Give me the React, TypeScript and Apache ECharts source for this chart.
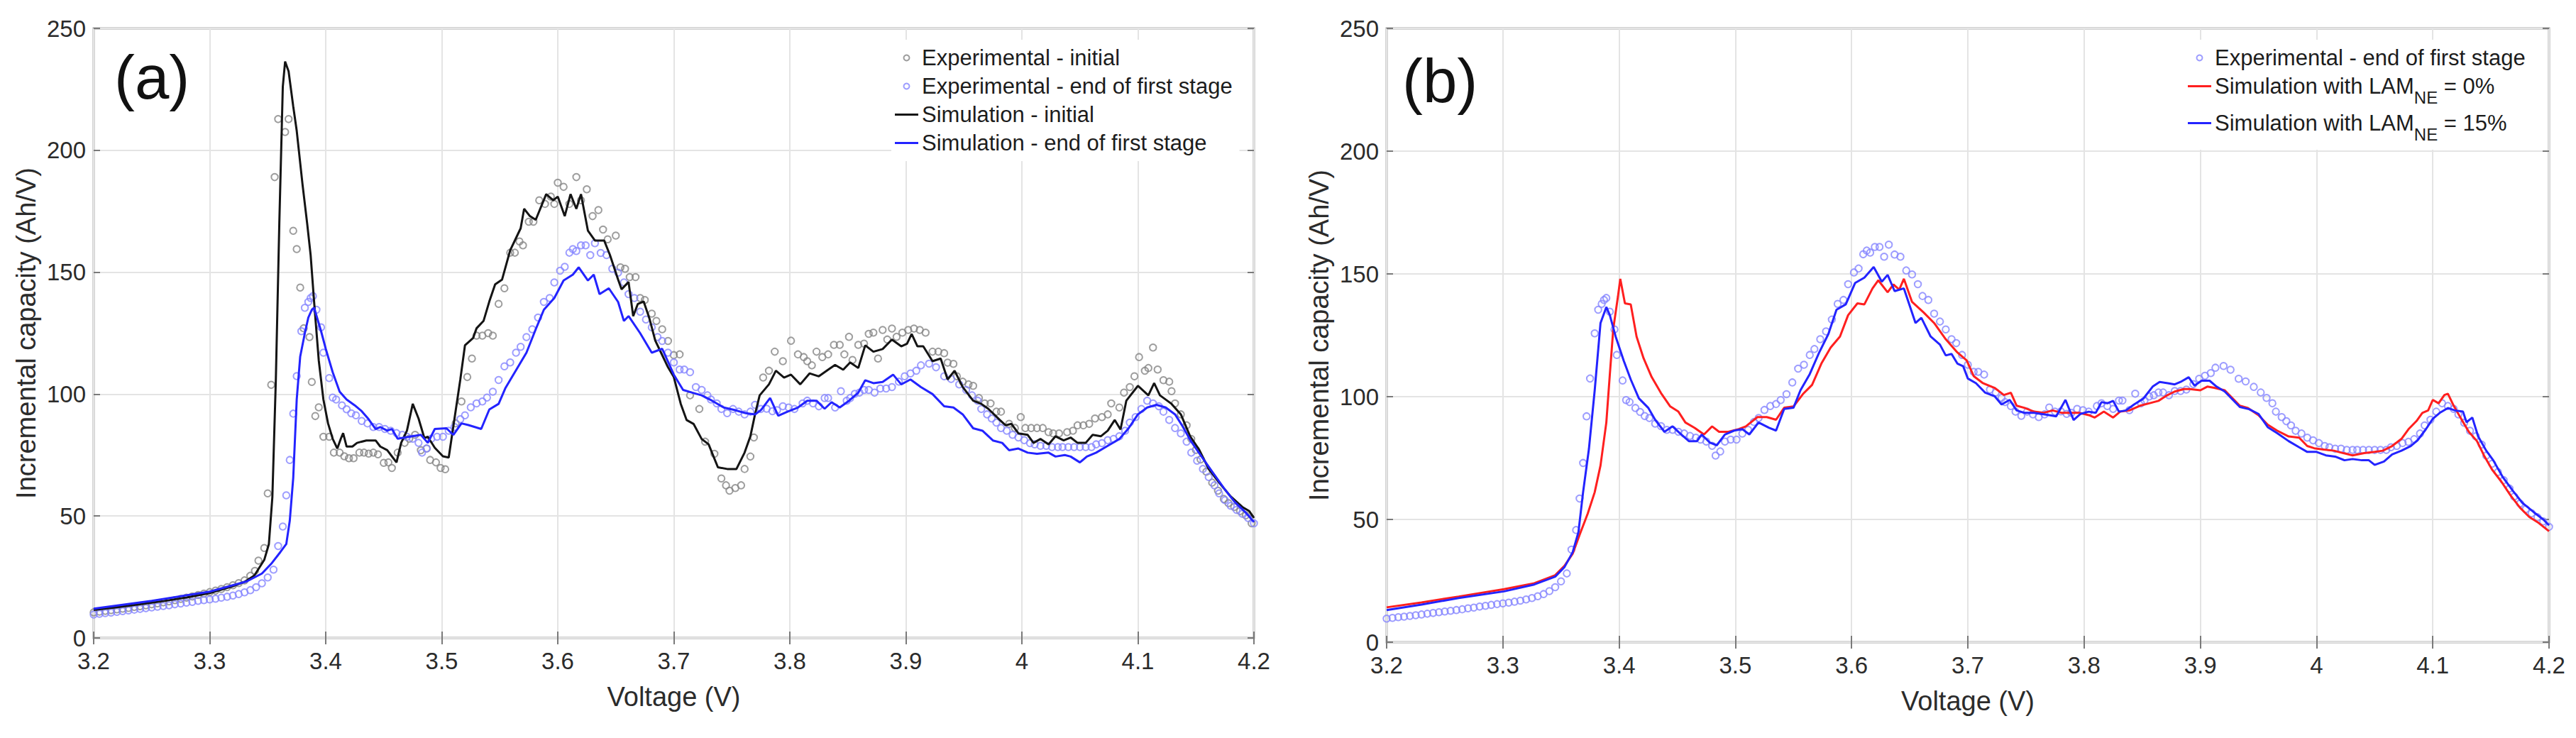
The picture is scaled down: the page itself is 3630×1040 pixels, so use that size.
import React, { useEffect, useRef } from "react";
import * as echarts from "echarts";

// ---------- data (Voltage V, incremental capacity Ah/V) ----------
const xTicks = { min: 3.2, max: 4.2, step: 0.1 };
const yTicks = { min: 0, max: 250, step: 50 };

const expInitial: number[][] = [
  [3.200, 10.5], [3.205, 10.8], [3.210, 11.1], [3.215, 11.4], [3.220, 11.7], [3.225, 12.0], [3.230, 12.3],
  [3.235, 12.7], [3.240, 13.0], [3.245, 13.4], [3.250, 13.8], [3.255, 14.2], [3.260, 14.6], [3.265, 15.0],
  [3.270, 15.5], [3.275, 16.0], [3.280, 16.5], [3.285, 17.0], [3.290, 17.6], [3.295, 18.2], [3.300, 18.8],
  [3.305, 19.4], [3.310, 20.1], [3.315, 20.8], [3.320, 21.6], [3.325, 22.5], [3.330, 23.6], [3.335, 25.5],
  [3.339, 27.5], [3.342, 31.7], [3.347, 36.9], [3.350, 59.3], [3.353, 103.8], [3.356, 189], [3.359, 212.8],
  [3.365, 207.5], [3.368, 212.8], [3.372, 167], [3.375, 159.5], [3.378, 143.7], [3.381, 127], [3.386, 123.4],
  [3.388, 105], [3.391, 91], [3.394, 94.6], [3.398, 82.5], [3.403, 82.5], [3.407, 76], [3.412, 76],
  [3.416, 74.5], [3.420, 73.7], [3.424, 73.7], [3.429, 76], [3.433, 76], [3.437, 75.6], [3.441, 76],
  [3.445, 75.3], [3.450, 71.8], [3.454, 72], [3.457, 69.7], [3.462, 76], [3.468, 80], [3.472, 81.7],
  [3.477, 83.3], [3.482, 77], [3.487, 77.7], [3.490, 73], [3.495, 72], [3.499, 69.7], [3.503, 69.2],
  [3.512, 88], [3.517, 97], [3.522, 107], [3.526, 114.6], [3.530, 124], [3.535, 124], [3.540, 125],
  [3.544, 124], [3.549, 137], [3.554, 143.4], [3.559, 158], [3.563, 158], [3.567, 162.6], [3.570, 161],
  [3.575, 170.7], [3.579, 170.7], [3.584, 179.5], [3.589, 178], [3.594, 181], [3.597, 178], [3.600, 186.7],
  [3.605, 185], [3.610, 178], [3.616, 189], [3.620, 179.5], [3.625, 184], [3.630, 173], [3.635, 175.5],
  [3.639, 167.5], [3.643, 163.5], [3.650, 165], [3.654, 152], [3.658, 151.4], [3.662, 148], [3.667, 148],
  [3.671, 139.4], [3.675, 138.6], [3.681, 133], [3.685, 130], [3.690, 126.6], [3.695, 121.8], [3.700, 116],
  [3.705, 116.3], [3.714, 99.5], [3.722, 93.9], [3.727, 80.5], [3.735, 75.5], [3.741, 65.4], [3.745, 62.6],
  [3.748, 60.4], [3.753, 61.5], [3.758, 62.6], [3.761, 69.3], [3.766, 74.4], [3.769, 82.2], [3.777, 106.8],
  [3.782, 109.6], [3.787, 117.4], [3.794, 113.5], [3.801, 121.9], [3.807, 116.3], [3.812, 115.2], [3.815, 113.5],
  [3.819, 111.8], [3.823, 117.4], [3.828, 115.2], [3.833, 116.3], [3.838, 120.2], [3.843, 120.2], [3.847, 116.3],
  [3.851, 123.5], [3.854, 114], [3.859, 120.2], [3.864, 120.7], [3.868, 124.7], [3.872, 125.2], [3.876, 114.6],
  [3.880, 126.3], [3.884, 122.4], [3.888, 126.9], [3.892, 123.5], [3.897, 125.2], [3.902, 126.3], [3.907, 126.9],
  [3.912, 126.3], [3.917, 125.2], [3.923, 117.4], [3.928, 117.4], [3.933, 116.8], [3.936, 112.9], [3.941, 112.4],
  [3.944, 107.3], [3.949, 105.1], [3.954, 104], [3.958, 103.4], [3.963, 98.4], [3.968, 96.2], [3.973, 96.2],
  [3.978, 92.8], [3.982, 92.8], [3.989, 87.8], [3.994, 86.1], [3.999, 90.6], [4.003, 86.1], [4.008, 86.1],
  [4.013, 86.1], [4.018, 86.1], [4.023, 84.4], [4.027, 83.9], [4.032, 83.9], [4.039, 84.4], [4.044, 85],
  [4.048, 87.2], [4.053, 87.2], [4.058, 87.8], [4.063, 90], [4.069, 90.6], [4.074, 91.7], [4.077, 96.2],
  [4.084, 94.5], [4.088, 100.6], [4.093, 102.9], [4.097, 107.3], [4.101, 115.2], [4.106, 109.6], [4.109, 110.7],
  [4.113, 119.1], [4.117, 110.1], [4.122, 105.7], [4.127, 105.1], [4.129, 101.2], [4.132, 96.2], [4.137, 91.7],
  [4.142, 87.2], [4.146, 81.6], [4.150, 77.1], [4.154, 73.2], [4.159, 68.2], [4.164, 63.7], [4.169, 60.4],
  [4.174, 57], [4.178, 55.3], [4.183, 53.7], [4.188, 52], [4.193, 50.3], [4.198, 47],
];

const expEndFirstStage: number[][] = [
  [3.200, 9.6], [3.205, 9.9], [3.210, 10.2], [3.215, 10.4], [3.220, 10.7], [3.225, 11.0], [3.230, 11.3],
  [3.235, 11.6], [3.240, 11.9], [3.245, 12.2], [3.250, 12.5], [3.255, 12.8], [3.260, 13.1], [3.265, 13.4],
  [3.270, 13.8], [3.275, 14.1], [3.280, 14.5], [3.285, 14.8], [3.290, 15.2], [3.295, 15.5], [3.300, 15.8],
  [3.305, 16.1], [3.310, 16.5], [3.315, 16.9], [3.320, 17.4], [3.325, 18.0], [3.330, 18.7], [3.335, 19.6],
  [3.340, 20.8], [3.345, 22.4], [3.350, 24.8], [3.355, 28], [3.359, 37.7], [3.363, 45.7], [3.366, 58.5],
  [3.369, 73], [3.372, 92], [3.375, 107.4], [3.379, 125.8], [3.382, 135.4], [3.385, 137.8], [3.387, 139.4],
  [3.389, 140.2], [3.392, 134.6], [3.396, 127.4], [3.398, 117], [3.403, 106.6], [3.406, 98.6], [3.409, 97.8],
  [3.414, 95.4], [3.418, 93.8], [3.422, 92.1], [3.426, 91.3], [3.431, 89], [3.436, 88], [3.441, 86.5],
  [3.446, 86.5], [3.451, 85.7], [3.456, 85], [3.461, 84], [3.466, 83.3], [3.470, 82.5], [3.475, 81.7],
  [3.480, 80], [3.483, 76], [3.487, 77.7], [3.491, 81.7], [3.496, 82.5], [3.501, 82.5], [3.506, 85],
  [3.511, 86.5], [3.516, 89.7], [3.520, 91.3], [3.525, 94.6], [3.530, 96.2], [3.535, 97], [3.539, 98.6],
  [3.544, 101], [3.549, 105.8], [3.554, 111.4], [3.559, 113], [3.564, 117], [3.568, 119.4], [3.573, 123.4],
  [3.578, 126.6], [3.583, 131.4], [3.588, 137.8], [3.593, 139.4], [3.597, 145.8], [3.602, 150.6], [3.606, 152.2],
  [3.610, 158], [3.613, 159.5], [3.616, 158.7], [3.620, 161], [3.624, 161], [3.628, 157], [3.632, 161.9],
  [3.637, 157.9], [3.642, 157], [3.647, 151.4], [3.652, 149.8], [3.657, 145.8], [3.661, 141], [3.666, 139.4],
  [3.671, 133.8], [3.676, 130.6], [3.681, 127.4], [3.686, 123.4], [3.690, 121.8], [3.695, 117], [3.700, 113],
  [3.705, 110.1], [3.709, 110.1], [3.714, 109], [3.719, 102.9], [3.724, 101.7], [3.729, 99.5], [3.732, 97.8],
  [3.737, 96.2], [3.741, 93.9], [3.746, 92.2], [3.751, 93.9], [3.756, 92.8], [3.761, 91.7], [3.766, 92.8],
  [3.770, 95.6], [3.775, 93.9], [3.780, 94], [3.785, 93], [3.789, 93.4], [3.794, 95], [3.799, 94.5],
  [3.804, 93.9], [3.811, 96.2], [3.815, 97.3], [3.820, 96.2], [3.825, 95], [3.830, 98.4], [3.833, 98.4],
  [3.839, 94.5], [3.844, 101.2], [3.849, 97.3], [3.852, 98.4], [3.856, 100.1], [3.860, 100.6], [3.864, 101.7],
  [3.868, 101.7], [3.873, 100.6], [3.878, 102.3], [3.883, 102.3], [3.888, 102.9], [3.894, 105.1], [3.899, 107.3],
  [3.904, 108.5], [3.909, 109.6], [3.913, 111.8], [3.920, 112.5], [3.926, 111], [3.933, 107.3], [3.939, 106.2],
  [3.946, 104], [3.952, 101.7], [3.957, 99.5], [3.962, 97.3], [3.965, 93.9], [3.970, 91.7], [3.974, 90],
  [3.978, 88.3], [3.982, 86.1], [3.987, 85], [3.992, 83.3], [3.997, 82.2], [4.002, 81.1], [4.007, 79.9],
  [4.011, 79.4], [4.016, 78.8], [4.021, 78.8], [4.026, 78.3], [4.031, 78.3], [4.035, 78.3], [4.040, 78.3],
  [4.045, 78.3], [4.050, 78.3], [4.055, 78.3], [4.060, 78.3], [4.064, 79.4], [4.069, 79.9], [4.074, 81.1],
  [4.079, 81.6], [4.084, 82.7], [4.089, 85], [4.093, 88.3], [4.098, 90.6], [4.103, 93.9], [4.108, 97.3],
  [4.113, 96.2], [4.118, 95], [4.122, 92.8], [4.127, 89.4], [4.132, 86.1], [4.137, 83.9], [4.142, 80.5],
  [4.146, 76], [4.151, 72.7], [4.156, 69.3], [4.161, 66], [4.166, 62.6], [4.170, 59.3], [4.175, 56.5],
  [4.180, 54.2], [4.185, 52.5], [4.190, 50.9], [4.195, 49.2], [4.200, 47],
];

const simInitial: number[][] = [
  [3.200, 11.5], [3.220, 12.6], [3.240, 13.8], [3.260, 15.1], [3.280, 16.6], [3.300, 18.4], [3.320, 21.2],
  [3.330, 23], [3.3385, 25.6], [3.347, 32], [3.351, 38.5], [3.354, 57.7], [3.357, 105.8], [3.360, 170],
  [3.363, 226], [3.365, 236.4], [3.368, 232.4], [3.372, 218], [3.375, 208], [3.380, 186], [3.384, 170],
  [3.387, 157], [3.390, 137.8], [3.394, 113.8], [3.398, 97.8], [3.402, 88], [3.406, 81.7], [3.410, 77.7],
  [3.413, 81.7], [3.415, 84], [3.418, 78.5], [3.423, 78.5], [3.427, 80], [3.435, 81], [3.443, 81],
  [3.447, 78.5], [3.453, 77], [3.457, 74.5], [3.461, 72], [3.465, 80], [3.470, 85], [3.475, 96],
  [3.480, 90], [3.485, 82], [3.488, 82.5], [3.494, 78], [3.501, 74.5], [3.506, 74], [3.511, 90],
  [3.516, 106], [3.520, 120], [3.527, 123], [3.530, 127], [3.536, 130], [3.541, 138], [3.546, 145],
  [3.552, 147], [3.559, 159], [3.564, 164], [3.568, 168], [3.571, 176], [3.576, 173], [3.581, 171.5],
  [3.584, 175], [3.590, 182], [3.596, 179.5], [3.600, 181], [3.606, 173], [3.611, 182], [3.616, 176],
  [3.620, 182], [3.626, 167], [3.632, 163], [3.640, 163], [3.645, 157], [3.652, 147], [3.655, 143],
  [3.661, 146], [3.665, 132], [3.669, 137], [3.674, 138], [3.679, 131], [3.684, 122], [3.689, 117],
  [3.695, 111], [3.700, 107], [3.706, 96], [3.711, 89.4], [3.717, 87.8], [3.724, 81.6], [3.730, 79.4],
  [3.738, 70], [3.746, 69.3], [3.754, 69.3], [3.761, 76], [3.766, 82.7], [3.770, 91.7], [3.774, 99.5],
  [3.782, 104], [3.788, 109.6], [3.795, 106.8], [3.801, 108], [3.809, 104], [3.817, 108.5], [3.825, 107.3],
  [3.833, 110], [3.839, 112], [3.846, 110], [3.852, 113], [3.859, 110.7], [3.865, 120], [3.872, 117.4],
  [3.880, 118.5], [3.888, 122.4], [3.896, 119.6], [3.901, 120.7], [3.905, 124.7], [3.910, 119.6], [3.915, 119.6],
  [3.923, 113.5], [3.930, 114.6], [3.936, 106], [3.942, 109.6], [3.949, 102.9], [3.958, 97.3], [3.965, 96],
  [3.971, 94], [3.981, 89.4], [3.986, 87.2], [3.991, 87.8], [3.997, 83.9], [4.005, 83.3], [4.010, 80],
  [4.016, 81.6], [4.023, 79.4], [4.029, 82.7], [4.036, 81], [4.042, 82.2], [4.048, 80], [4.055, 80],
  [4.061, 83.3], [4.068, 82.7], [4.074, 85], [4.080, 89.4], [4.085, 85.5], [4.090, 97.3], [4.100, 103.4],
  [4.109, 99.5], [4.114, 104.5], [4.119, 99.5], [4.129, 96], [4.137, 91.7], [4.145, 82.7], [4.153, 77],
  [4.161, 69.3], [4.170, 63.7], [4.180, 58], [4.190, 53.7], [4.196, 52], [4.200, 49.2],
];

const simEndFirstStage: number[][] = [
  [3.200, 12], [3.250, 15.2], [3.300, 19], [3.332, 23.2], [3.345, 26.4], [3.353, 30.4], [3.361, 35.3],
  [3.366, 38.5], [3.369, 48], [3.372, 65.7], [3.375, 97.8], [3.378, 115.4], [3.382, 125], [3.385, 131.4],
  [3.388, 134.6], [3.390, 135.4], [3.393, 130.6], [3.396, 125.8], [3.400, 118.6], [3.406, 109], [3.412, 101],
  [3.418, 97.8], [3.425, 95.4], [3.431, 93], [3.437, 89.7], [3.443, 85.7], [3.447, 86.5], [3.453, 85],
  [3.457, 85.7], [3.462, 81.7], [3.472, 82.5], [3.482, 83.3], [3.488, 80], [3.494, 85.7], [3.504, 86],
  [3.510, 83.3], [3.517, 88], [3.523, 87.3], [3.534, 85.7], [3.541, 93.7], [3.549, 96], [3.555, 102.6],
  [3.565, 110.6], [3.573, 117], [3.581, 126.6], [3.588, 134.6], [3.597, 139.4], [3.605, 146.6], [3.613, 149],
  [3.618, 152], [3.626, 146.6], [3.631, 149], [3.636, 141], [3.644, 143.4], [3.652, 137.8], [3.657, 130],
  [3.661, 132], [3.671, 125], [3.681, 117], [3.690, 118.6], [3.700, 108], [3.708, 101.7], [3.716, 100.6],
  [3.724, 99.5], [3.733, 97.3], [3.743, 94.5], [3.753, 93.4], [3.762, 92.2], [3.770, 91.7], [3.775, 93.4],
  [3.783, 98.4], [3.790, 91.1], [3.798, 92.8], [3.807, 94.5], [3.815, 97.3], [3.823, 97.3], [3.830, 94],
  [3.836, 96.7], [3.843, 94.5], [3.851, 97.3], [3.859, 100.6], [3.865, 105.7], [3.872, 104.5], [3.880, 105],
  [3.889, 108], [3.896, 104], [3.904, 106], [3.913, 102.9], [3.923, 100], [3.933, 95], [3.941, 94.5],
  [3.949, 91.7], [3.958, 86], [3.966, 85], [3.975, 81], [3.983, 80], [3.989, 77], [3.997, 77.7],
  [4.005, 76], [4.013, 75.5], [4.023, 76], [4.029, 74.4], [4.037, 75], [4.042, 74.4], [4.050, 72],
  [4.056, 74.4], [4.064, 76], [4.074, 78.8], [4.084, 81.6], [4.092, 86], [4.100, 91.7], [4.108, 94.5],
  [4.116, 95.6], [4.124, 94.5], [4.132, 91.7], [4.138, 87.2], [4.146, 80.5], [4.154, 75], [4.164, 68.2],
  [4.174, 61.5], [4.183, 56], [4.193, 51.4], [4.200, 47.5],
];

const simLam0: number[][] = [
  [3.200, 14.2], [3.230, 16.2], [3.262, 18.6], [3.301, 21.6], [3.327, 24], [3.345, 27.3], [3.353, 31.1],
  [3.360, 36], [3.366, 43.7], [3.373, 52.4], [3.379, 61.1], [3.384, 72], [3.389, 89.5], [3.392, 109],
  [3.395, 127.7], [3.399, 140.8], [3.401, 148], [3.405, 138], [3.410, 137.6], [3.415, 124.5], [3.421, 115.7],
  [3.428, 108], [3.436, 101.5], [3.444, 96], [3.451, 93.9], [3.457, 89.5], [3.465, 87.3], [3.473, 84.6],
  [3.480, 87.9], [3.486, 85.7], [3.494, 85.7], [3.503, 86.8], [3.509, 87.9], [3.519, 91.7], [3.527, 91.7],
  [3.535, 90.6], [3.542, 95.5], [3.550, 96], [3.558, 101], [3.566, 104.8], [3.574, 113.5], [3.582, 120],
  [3.590, 124.5], [3.597, 133.2], [3.605, 138], [3.611, 137.6], [3.618, 144.1], [3.623, 147.4], [3.631, 142.5],
  [3.636, 145.7], [3.641, 143.6], [3.645, 148], [3.652, 138.6], [3.662, 134.3], [3.671, 130], [3.681, 123.4],
  [3.691, 118], [3.699, 114.8], [3.705, 108.4], [3.713, 105.5], [3.723, 103.6], [3.731, 100.7], [3.737, 101.6],
  [3.742, 96.3], [3.749, 95.4], [3.757, 93.9], [3.765, 93.4], [3.773, 94.4], [3.781, 93.4], [3.788, 93.4],
  [3.796, 93.4], [3.804, 92.5], [3.809, 91.5], [3.817, 93.9], [3.825, 91.5], [3.831, 93.9], [3.839, 94.4],
  [3.848, 96.3], [3.856, 97.3], [3.864, 98.3], [3.872, 100.7], [3.878, 102.1], [3.886, 103.1], [3.891, 103.1],
  [3.900, 102.6], [3.906, 104.1], [3.912, 103.6], [3.921, 102.6], [3.927, 99.7], [3.934, 96.3], [3.941, 95.4],
  [3.950, 92.5], [3.958, 88.6], [3.966, 86.2], [3.976, 83.8], [3.985, 83.3], [3.992, 79.9], [3.998, 79],
  [4.006, 78.5], [4.015, 78], [4.023, 77], [4.031, 76.1], [4.041, 77], [4.050, 77.5], [4.057, 78],
  [4.065, 79.9], [4.073, 82.8], [4.079, 86.7], [4.086, 90.1], [4.091, 93.4], [4.096, 94.4], [4.100, 98.7],
  [4.105, 97.3], [4.110, 100.7], [4.113, 101.2], [4.118, 96.3], [4.125, 90.5], [4.131, 85.7], [4.138, 81.9],
  [4.144, 76.1], [4.151, 70.3], [4.159, 65.4], [4.167, 59.7], [4.175, 54.8], [4.183, 51], [4.191, 48.6],
  [4.200, 45.2],
];

const simLam15: number[][] = [
  [3.200, 13.1], [3.230, 15.3], [3.262, 18], [3.301, 20.7], [3.327, 23.5], [3.345, 26.7], [3.353, 30.6],
  [3.360, 36.6], [3.365, 44.8], [3.369, 61.1], [3.374, 78.6], [3.379, 102.6], [3.384, 130], [3.389, 136.5],
  [3.392, 133.2], [3.397, 124.5], [3.404, 114.6], [3.410, 107], [3.417, 99.3], [3.425, 95.5], [3.431, 90.6],
  [3.439, 85.7], [3.446, 87.9], [3.452, 85.2], [3.460, 81.9], [3.467, 81.9], [3.471, 84.6], [3.478, 81.3],
  [3.484, 80.2], [3.491, 84.6], [3.499, 86.2], [3.506, 86.8], [3.512, 84.6], [3.520, 89.5], [3.529, 87.3],
  [3.535, 86.2], [3.542, 95], [3.550, 95.5], [3.556, 102.6], [3.564, 109.2], [3.572, 117.9], [3.580, 125.5],
  [3.587, 135.4], [3.595, 137.6], [3.603, 146.3], [3.611, 148.5], [3.619, 152.8], [3.626, 146.8], [3.631, 149.6],
  [3.637, 143], [3.645, 144.1], [3.655, 130], [3.660, 132.1], [3.668, 124.5], [3.676, 121.2], [3.681, 116.8],
  [3.686, 117.4], [3.691, 113.5], [3.696, 112.4], [3.700, 107.4], [3.707, 105.5], [3.715, 101.6], [3.723, 100.2],
  [3.729, 96.8], [3.736, 98.7], [3.742, 94.4], [3.749, 93.4], [3.757, 93.4], [3.763, 93], [3.770, 92.5],
  [3.776, 92], [3.784, 98.7], [3.791, 90.5], [3.797, 93], [3.804, 93.9], [3.810, 93.4], [3.815, 97.8],
  [3.820, 97.3], [3.825, 98.3], [3.830, 93.9], [3.836, 94.4], [3.843, 96.8], [3.851, 99.2], [3.859, 104.1],
  [3.865, 106], [3.872, 105.5], [3.878, 105], [3.883, 106], [3.890, 107.9], [3.895, 104.5], [3.901, 106.5],
  [3.908, 106.5], [3.914, 104.1], [3.921, 102.1], [3.927, 99.2], [3.934, 95.8], [3.942, 94.9], [3.950, 93],
  [3.958, 87.6], [3.966, 85.2], [3.976, 81.9], [3.985, 79.4], [3.992, 77.5], [4.000, 77.5], [4.008, 76.1],
  [4.016, 75.6], [4.024, 74.1], [4.031, 74.6], [4.039, 74.1], [4.045, 74.1], [4.050, 72.2], [4.058, 73.6],
  [4.065, 76.5], [4.073, 78], [4.081, 79.9], [4.087, 82.3], [4.094, 86.7], [4.100, 91], [4.106, 93.4],
  [4.113, 95.4], [4.119, 94.4], [4.126, 93.9], [4.129, 89.6], [4.134, 91.5], [4.139, 83.8], [4.146, 78],
  [4.152, 74.1], [4.160, 67.4], [4.169, 61.6], [4.177, 56.8], [4.187, 52.9], [4.195, 50], [4.200, 47.6],
];

const namesA = [
  "Experimental - initial",
  "Experimental - end of first stage",
  "Simulation - initial",
  "Simulation - end of first stage",
];
const namesB = [
  "Experimental - end of first stage",
  "Simulation with LAM_NE = 0%",
  "Simulation with LAM_NE = 15%",
];
const panelLabels = ["(a)", "(b)"];
const axisTitles = { x: "Voltage (V)", y: "Incremental capacity (Ah/V)" };

// ---------- styling ----------
const FONT = "'Liberation Sans', Arial, Helvetica, sans-serif";
const TXT = "#2b2b2b";
const AXIS = "#a8a8a8";
const GRIDC = "#e4e4e4";
const GREY_MK = "#848484";
const BLUE_MK = "#8484ff";
const BLACK = "#141414";
const BLUE = "#2323ff";
const RED = "#ff1f1f";
const LINE_ICON = "path://M0 0H33V0.02H0Z M0 2.5H33V5.5H0Z M0 7.98H33V8H0Z";

const grids = [
  { left: 132, top: 40, width: 1635, height: 859 },
  { left: 1954, top: 40, width: 1638, height: 865 },
];

function fmtX(v: number) {
  return String(Math.round(v * 10) / 10);
}

function xAxes(gridIndex: number) {
  const common = {
    type: "value",
    gridIndex,
    min: xTicks.min,
    max: xTicks.max,
    interval: xTicks.step,
    axisLine: { show: false },
    axisTick: { show: true, inside: true, length: 9, lineStyle: { color: "#7a7a7a", width: 2 } },
  };
  return [
    {
      ...common,
      position: "bottom",
      axisLabel: { fontSize: 33, color: TXT, fontFamily: FONT, margin: 16, formatter: fmtX },
      splitLine: { show: true, lineStyle: { color: GRIDC, width: 2 } },
      name: axisTitles.x,
      nameLocation: "middle",
      nameGap: 64,
      nameTextStyle: { fontSize: 38, color: TXT, fontFamily: FONT },
    },
    { ...common, position: "top", axisLabel: { show: false }, splitLine: { show: false } },
  ];
}

function yAxes(gridIndex: number) {
  const common = {
    type: "value",
    gridIndex,
    min: yTicks.min,
    max: yTicks.max,
    interval: yTicks.step,
    axisLine: { show: false },
    axisTick: { show: true, inside: true, length: 9, lineStyle: { color: "#7a7a7a", width: 2 } },
  };
  return [
    {
      ...common,
      position: "left",
      axisLabel: { fontSize: 33, color: TXT, fontFamily: FONT, margin: 11 },
      splitLine: { show: true, lineStyle: { color: GRIDC, width: 2 } },
      name: axisTitles.y,
      nameLocation: "middle",
      nameGap: 76,
      nameTextStyle: { fontSize: 38, color: TXT, fontFamily: FONT },
    },
    { ...common, position: "right", axisLabel: { show: false }, splitLine: { show: false } },
  ];
}

function scatter(name: string, data: number[][], color: string, axis: number) {
  return {
    type: "scatter",
    name,
    data,
    xAxisIndex: axis,
    yAxisIndex: axis,
    symbol: "circle",
    symbolSize: 9.5,
    itemStyle: { color: "rgba(0,0,0,0)", borderColor: color, borderWidth: 2 },
    z: 2,
  };
}

function line(name: string, data: number[][], color: string, axis: number, z: number) {
  return {
    type: "line",
    name,
    data,
    xAxisIndex: axis,
    yAxisIndex: axis,
    symbol: "none",
    showSymbol: false,
    lineStyle: { color, width: 3 },
    itemStyle: { color },
    z,
  };
}

function legendItems(names: string[], scatterCount: number[]) {
  return names.map((n, i) => ({ name: n, icon: scatterCount.includes(i) ? "circle" : LINE_ICON }));
}

const legendText = { fontSize: 31, color: "#1c1c1c", fontFamily: FONT };

export default function App() {
  const ref = useRef<HTMLDivElement>(null);
  useEffect(() => {
    if (!ref.current) return;
    const chart = echarts.init(ref.current, undefined, { renderer: "svg" });
    const option = {
      animation: false,
      backgroundColor: "#ffffff",
      grid: grids.map((g) => ({
        ...g,
        show: true,
        borderColor: AXIS,
        borderWidth: 3,
        backgroundColor: "transparent",
        containLabel: false,
      })),
      xAxis: [...xAxes(0), ...xAxes(1)],
      yAxis: [...yAxes(0), ...yAxes(1)],
      legend: [
        {
          orient: "vertical",
          left: 1256,
          top: 56,
          itemWidth: 33,
          itemHeight: 8,
          itemGap: 9,
          symbolKeepAspect: true,
          padding: [10, 10, 10, 5],
          backgroundColor: "#ffffff",
          selectedMode: false,
          textStyle: legendText,
          data: legendItems(namesA, [0, 1]),
        },
        {
          orient: "vertical",
          left: 3078,
          top: 56,
          itemWidth: 33,
          itemHeight: 8,
          itemGap: 9,
          symbolKeepAspect: true,
          padding: [10, 10, 10, 5],
          backgroundColor: "#ffffff",
          selectedMode: false,
          textStyle: {
            ...legendText,
            rich: {
              n: { fontSize: 31, lineHeight: 31, verticalAlign: "top", color: "#1c1c1c", fontFamily: FONT },
              sub: {
                fontSize: 24,
                lineHeight: 24,
                verticalAlign: "top",
                padding: [19, 0, 0, 0],
                color: "#1c1c1c",
                fontFamily: FONT,
              },
            },
          },
          formatter: (name: string) => {
            const i = name.indexOf("LAM_NE");
            if (i < 0) return "{n|" + name + "}";
            return "{n|" + name.slice(0, i) + "LAM}{sub|NE}{n|" + name.slice(i + 6) + "}";
          },
          data: legendItems(namesB, [0]),
        },
      ],
      graphic: [
        {
          type: "text",
          left: 161,
          top: 65,
          style: { text: panelLabels[0], fontSize: 87, fill: "#111111", fontFamily: FONT },
          z: 10,
        },
        {
          type: "text",
          left: 1976,
          top: 70,
          style: { text: panelLabels[1], fontSize: 87, fill: "#111111", fontFamily: FONT },
          z: 10,
        },
      ],
      series: [
        scatter(namesA[0], expInitial, GREY_MK, 0),
        scatter(namesA[1], expEndFirstStage, BLUE_MK, 0),
        line(namesA[2], simInitial, BLACK, 0, 3),
        line(namesA[3], simEndFirstStage, BLUE, 0, 4),
        scatter(namesB[0], expEndFirstStage, BLUE_MK, 2),
        line(namesB[1], simLam0, RED, 2, 3),
        line(namesB[2], simLam15, BLUE, 2, 4),
      ],
    };
    chart.setOption(option as any);
    return () => chart.dispose();
  }, []);
  return (
    <div
      ref={ref}
      style={{ position: "fixed", left: 0, top: 0, width: 3630, height: 1040, background: "#fff" }}
    />
  );
}
